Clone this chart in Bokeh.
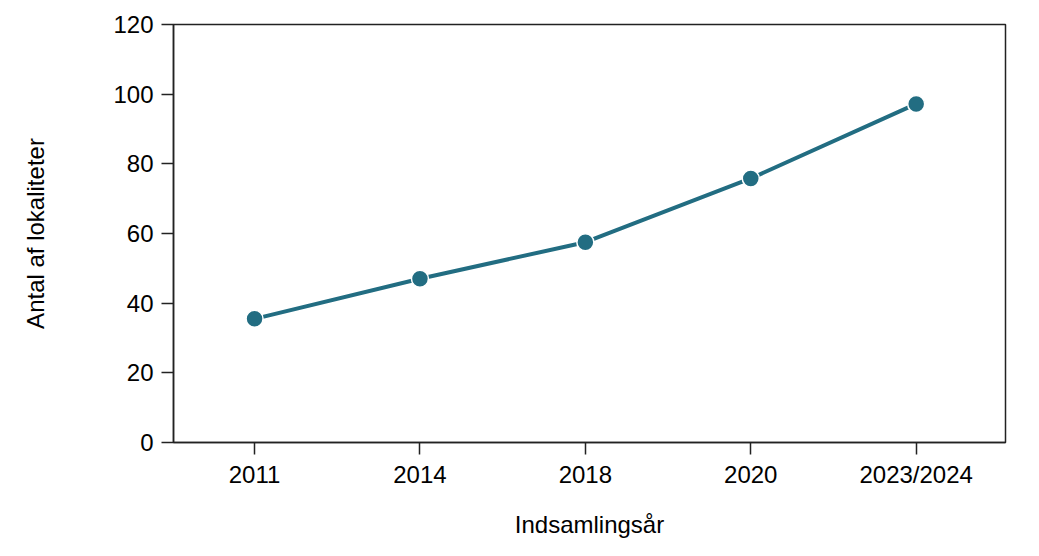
from bokeh.plotting import figure
from bokeh.embed import file_html
from bokeh.resources import INLINE
from bokeh.models import FixedTicker, Range1d

years = ["2011", "2014", "2018", "2020", "2023/2024"]
counts = [35.5, 47.0, 57.5, 75.8, 97.2]
y_ticks = [0, 20, 40, 60, 80, 100, 120]

xs = list(range(len(years)))
FONT = "Liberation Sans"
COLOR = "#226d82"

p = figure(width=1023, height=540, output_backend="svg", toolbar_location=None,
           x_range=Range1d(-0.49, 4.54), y_range=Range1d(0, 120))
p.min_border_left = 173
p.min_border_right = 18
p.min_border_top = 24
p.min_border_bottom = 93

p.line(xs, counts, line_color=COLOR, line_width=4)
p.scatter(xs, counts, size=17, fill_color=COLOR, line_color="white", line_width=1.5)

p.xgrid.visible = False
p.ygrid.visible = False
p.outline_line_color = "#222222"
p.outline_line_width = 1.5
p.background_fill_color = "white"
p.border_fill_color = "white"

p.xaxis.ticker = FixedTicker(ticks=xs)
p.xaxis.major_label_overrides = {i: y for i, y in enumerate(years)}
p.yaxis.ticker = FixedTicker(ticks=y_ticks)

for ax in (p.xaxis, p.yaxis):
    ax.minor_tick_line_color = None
    ax.major_tick_in = 0
    ax.major_tick_out = 12
    ax.major_tick_line_color = "#222222"
    ax.major_tick_line_width = 1.5
    ax.axis_line_color = "#222222"
    ax.axis_line_width = 1.5
    ax.major_label_text_font = FONT
    ax.major_label_text_font_size = "24px"
    ax.major_label_text_color = "black"
    ax.axis_label_text_font = FONT
    ax.axis_label_text_font_size = "24px"
    ax.axis_label_text_font_style = "normal"
    ax.axis_label_text_color = "black"

p.xaxis.axis_label = "Indsamlingsår"
p.yaxis.axis_label = "Antal af lokaliteter"
p.xaxis.major_label_standoff = 6
p.yaxis.major_label_standoff = 8
p.xaxis.axis_label_standoff = 20
p.yaxis.axis_label_standoff = 61

open("out.html", "w").write(file_html(p, INLINE))
